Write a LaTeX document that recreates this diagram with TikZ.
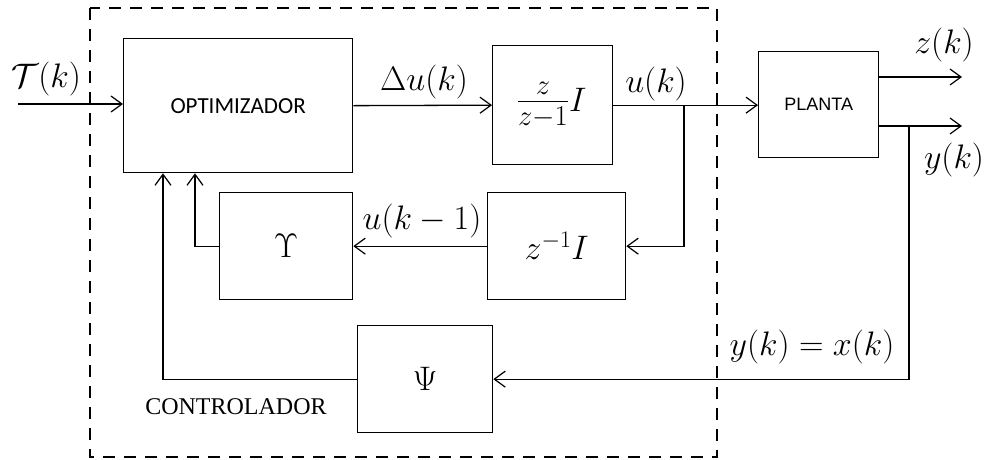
\RequirePackage{fix-cm}
\documentclass[tikz,border=0pt]{standalone}
\usepackage{fontspec}
\newfontfamily\calib{Carlito}
\newfontfamily\arl{Liberation Sans}
\newfontfamily\tms{Liberation Serif}
\usetikzlibrary{arrows.meta,calc}
\begin{document}
\begin{tikzpicture}[x=1pt,y=-1pt,
  blk/.style={draw, line width=1.3pt, inner sep=0pt, anchor=north west},
  conn/.style={line width=1.3pt},
  arr/.style={conn, -{Straight Barb[length=11pt,width=16pt,line width=1.2pt]}},
  lbl/.style={inner sep=0pt, font=\fontsize{34}{40}\selectfont},
  dbox/.style={line width=2.8pt, dash pattern=on 12pt off 9pt}]
\useasboundingbox (0,0) rectangle (987,459);
% controller boundary
\draw[dbox] (90,8) rectangle (717,457);
% blocks
\node[blk, minimum width=229pt, minimum height=134pt] (opt) at (123,38) {};
\node[font=\calib\fontsize{23}{26}\selectfont] (optt) at (opt.center) {OPTIMIZADOR};
\node[blk, minimum width=120pt, minimum height=119pt] (fr) at (492,45) {};
\node[inner sep=0pt] (frt) at ([xshift=-1pt]fr.center) {{\fontsize{41}{48}\selectfont$\frac{z}{z-1}$}{\fontsize{34}{40}\selectfont$I$}};
\node[blk, minimum width=120pt, minimum height=106pt] (plant) at (758,51) {};
\node[font=\arl\fontsize{18}{22}\selectfont] (plantt) at (plant.center) {PLANTA};
\node[blk, minimum width=133pt, minimum height=107pt] (ups) at (219,192) {};
\node[lbl] (upst) at (ups.center) {$\Upsilon$};
\node[blk, minimum width=138pt, minimum height=107pt] (zinv) at (487,192) {};
\node[lbl] (zinvt) at (zinv.center) {$z^{-1}I$};
\node[blk, minimum width=135pt, minimum height=107pt] (psi) at (357,325) {};
\node[lbl] (psit) at (psi.center) {$\Psi$};
% coordinates
\coordinate (in) at (18,104);
\coordinate (b1) at (684,0);
\coordinate (zc) at (962,77);
\coordinate (yc) at (962,126);
\coordinate (yb) at (909,126);
\coordinate (f1) at (195,0);
\coordinate (f2) at (163,0);
% connectors
\draw[arr] (in) -- (in -| opt.west);
\draw[arr] (opt.east) -- (fr.west);
\draw[arr] (fr.east) -- (fr.east -| plant.west);
\draw[arr] (b1 |- fr.east) |- (zinv.east);
\draw[arr] (zinv.west) -- (ups.east);
\draw[arr] (ups.west) -| (f1 |- opt.south);
\draw[arr] (psi.west) -| (f2 |- opt.south);
\draw[arr] (plant.east |- zc) -- (zc);
\draw[arr] (plant.east |- yc) -- (yc);
\draw[arr] (yb) |- (psi.east);
% labels
\node[lbl] (lT) at (46,79) {$\mathcal{T}(k)$};
\node[lbl] (lDu) at (424,82) {$\Delta u(k)$};
\node[lbl] (lu) at (656,84) {$u(k)$};
\node[lbl] (lz) at (944,45) {$z(k)$};
\node[lbl] (ly) at (954,160) {$y(k)$};
\node[lbl] (luk) at (422,221) {$u(k-1)$};
\node[lbl] (lyx) at (812,347) {$y(k)=x(k)$};
\node[font=\tms\fontsize{24}{28}\selectfont, inner sep=0pt] (ctrl) at (236,407) {CONTROLADOR};
\end{tikzpicture}
\end{document}
